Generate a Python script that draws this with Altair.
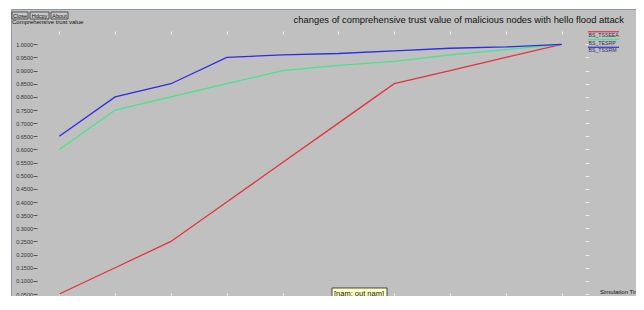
import altair as alt
import pandas as pd

# ---- data ----
time = [0, 2, 4, 6, 8, 10, 12, 14, 16, 18]
series = ["BS_TSSEEA", "BS_TESRP", "BS_TSSRM"]
tsseea = [0.05, 0.15, 0.25, 0.40, 0.55, 0.70, 0.85, 0.90, 0.95, 1.00]
tesrp = [0.60, 0.75, 0.80, 0.85, 0.90, 0.92, 0.935, 0.96, 0.98, 1.00]
tssrm = [0.65, 0.80, 0.85, 0.95, 0.96, 0.965, 0.975, 0.985, 0.99, 1.00]
colors = ["#E4323C", "#44E48C", "#2C2CE4"]
y_ticks = [round(0.05 * i, 2) for i in range(1, 21)]
buttons = ["Close", "Hdcpy", "About"]
title_text = "changes of comprehensive trust value of malicious nodes with hello flood attack"
y_title = "Comprehensive trust value"
x_title = "Simulation Time(s)"
tooltip_text = "[nam: out nam]"

rows = []
for name, vals in zip(series, [tsseea, tesrp, tssrm]):
    for t, v in zip(time, vals):
        rows.append({"time": t, "value": v, "series": name})
df = pd.DataFrame(rows)

W, H = 625, 287
BG = "#C0C0C0"
FONT = "Liberation Sans"

xscale = alt.Scale(domain=[0, 18], range=[48.3, 550.7], nice=False, zero=False)
yscale = alt.Scale(domain=[0.05, 1.0], range=[285, 35.3], nice=False, zero=False)
cscale = alt.Scale(domain=series, range=colors)

left_axis = alt.Axis(orient="left", offset=-26, values=y_ticks, format=".4f",
                     domain=False, grid=False, tickSize=4, tickColor="#555555",
                     labelFontSize=5.5, labelColor="#333333", labelPadding=0.5,
                     labelFont=FONT, title=None)
bottom_axis = alt.Axis(orient="bottom", offset=-3, values=time, format=".4f",
                       domain=False, grid=False, tickSize=2, tickColor="#F4F4F4",
                       labelFontSize=6, labelColor="#555555", labelPadding=1,
                       labelFont=FONT, title=None)
top_axis = alt.Axis(orient="top", offset=-25, values=time, labels=False,
                    domain=False, grid=False, tickSize=3, tickColor="#F4F4F4", title=None)
right_axis = alt.Axis(orient="right", offset=-(W - 574), values=y_ticks, labels=False,
                      domain=False, grid=False, tickSize=4, tickColor="#EDEDED", title=None)

lines = alt.Chart(df).mark_line(strokeWidth=1.3).encode(
    x=alt.X("time:Q", scale=xscale, axis=bottom_axis),
    y=alt.Y("value:Q", scale=yscale, axis=left_axis),
    color=alt.Color("series:N", scale=cscale, legend=None),
)

ghost = alt.Chart(df).mark_line(opacity=0).encode(
    x=alt.X("time:Q", scale=xscale, axis=top_axis),
    y=alt.Y("value:Q", scale=yscale, axis=right_axis),
)

title = alt.Chart(pd.DataFrame({"t": [title_text]})).mark_text(
    align="right", baseline="alphabetic", font=FONT, fontSize=9.4, color="#111111"
).encode(text="t:N", x=alt.value(613), y=alt.value(14))

ytitle = alt.Chart(pd.DataFrame({"t": [y_title]})).mark_text(
    align="left", baseline="alphabetic", font=FONT, fontSize=6, color="#111111"
).encode(text="t:N", x=alt.value(1), y=alt.value(15))

xtitle = alt.Chart(pd.DataFrame({"t": [x_title]})).mark_text(
    align="left", baseline="alphabetic", font=FONT, fontSize=6, color="#111111"
).encode(text="t:N", x=alt.value(589), y=alt.value(285))

btn_layers = []
btn_x = [(1, 17), (19, 38), (40, 57)]
for name, (a, b) in zip(buttons, btn_x):
    d = pd.DataFrame({"t": [name]})
    btn_layers.append(alt.Chart(d).mark_rect(fill="#C8C8C8", stroke="#333333", strokeWidth=0.8).encode(
        x=alt.value(a), x2=alt.value(b), y=alt.value(3), y2=alt.value(10)))
    btn_layers.append(alt.Chart(d).mark_text(align="center", baseline="middle", font=FONT,
                                             fontSize=5.5, color="#111111").encode(
        text="t:N", x=alt.value((a + b) / 2), y=alt.value(6.7)))

leg_layers = []
for i, (name, col) in enumerate(zip(series, colors)):
    d = pd.DataFrame({"t": [name]})
    ly = 22 + i * 7.8
    leg_layers.append(alt.Chart(d).mark_rect(fill=col, opacity=0.85).encode(
        x=alt.value(577), x2=alt.value(608), y=alt.value(ly), y2=alt.value(ly + 1.4)))
    leg_layers.append(alt.Chart(d).mark_text(align="left", baseline="alphabetic", font=FONT,
                                             fontSize=5.2, color="#333355").encode(
        text="t:N", x=alt.value(577.5), y=alt.value(ly + 5.8)))

tip = pd.DataFrame({"t": [tooltip_text]})
tip_box = alt.Chart(tip).mark_rect(fill="#FFFFC4", stroke="#222222", strokeWidth=0.8).encode(
    x=alt.value(321), x2=alt.value(376), y=alt.value(279), y2=alt.value(290))
tip_txt = alt.Chart(tip).mark_text(align="left", baseline="alphabetic", font=FONT,
                                   fontSize=7.5, color="#111111").encode(
    text="t:N", x=alt.value(323), y=alt.value(286.5))

chart = alt.layer(lines, ghost, title, ytitle, xtitle, *btn_layers, *leg_layers, tip_box, tip_txt).resolve_axis(
    x="independent", y="independent"
).properties(
    width=W, height=H,
    autosize=alt.AutoSizeParams(type="none"),
    padding={"left": 3, "top": 1, "right": 0, "bottom": 0},
    background="#FFFFFF",
).configure_view(
    fill=BG, stroke="#8A96A6", strokeWidth=1
)

chart.save("out.html", embed_options={"renderer": "svg", "actions": False})
